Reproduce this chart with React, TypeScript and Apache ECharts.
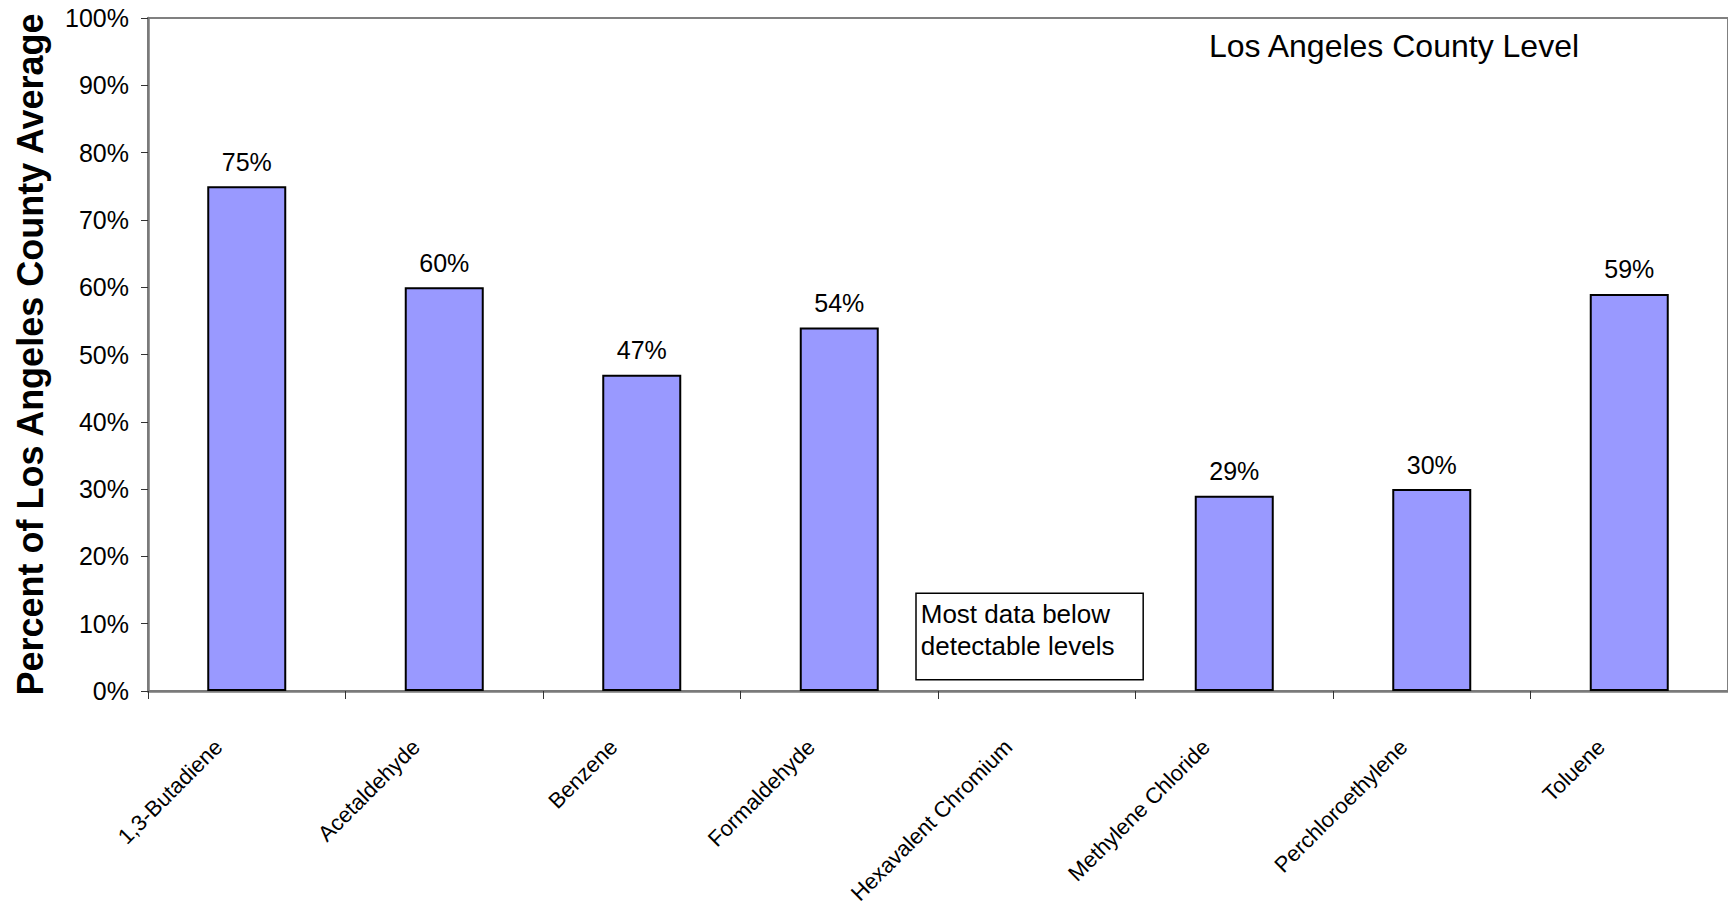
import React, { useEffect, useRef } from "react";
import * as echarts from "echarts";

// Pollutant categories along the x axis
const categories = [
  "1,3-Butadiene",
  "Acetaldehyde",
  "Benzene",
  "Formaldehyde",
  "Hexavalent Chromium",
  "Methylene Chloride",
  "Perchloroethylene",
  "Toluene",
];

// Percent of the county average; Hexavalent Chromium has no bar
const percentValues: (number | null)[] = [75, 60, 47, 54, null, 29, 30, 59];

// Y axis range and step, in percent
const yTicks = { min: 0, max: 100, step: 10 };

const chartTitle = "Los Angeles County Level";
const yAxisTitle = "Percent of Los Angeles County Average";
const noteText = "Most data below\ndetectable levels";
const noteCategory = "Hexavalent Chromium";

const FONT = "'Liberation Sans', Arial, Helvetica, sans-serif";

export default function App() {
  const ref = useRef<HTMLDivElement>(null);

  useEffect(() => {
    if (!ref.current) return;
    const chart = echarts.init(ref.current, undefined, { renderer: "svg" });

    chart.setOption({
      animation: false,
      backgroundColor: "#ffffff",
      textStyle: { fontFamily: FONT, color: "#000" },
      title: {
        text: chartTitle,
        left: 1209,
        top: 30,
        padding: 0,
        textStyle: {
          fontFamily: FONT,
          fontSize: 32,
          fontWeight: "normal",
          color: "#000",
        },
      },
      grid: {
        left: 148,
        top: 18,
        right: -2,
        bottom: 220,
        show: true,
        borderColor: "#808080",
        borderWidth: 2,
        backgroundColor: "transparent",
      },
      xAxis: {
        type: "category",
        data: categories,
        axisLine: { show: true, lineStyle: { color: "#7a7a7a", width: 2.5 } },
        axisTick: {
          show: true,
          length: 8,
          lineStyle: { color: "#333", width: 1 },
        },
        axisLabel: {
          interval: 0,
          rotate: 45,
          margin: 24,
          padding: [0, 40, 0, 0],
          fontSize: 22,
          fontFamily: FONT,
          color: "#000",
        },
        splitLine: { show: false },
      },
      yAxis: {
        type: "value",
        min: yTicks.min,
        max: yTicks.max,
        interval: yTicks.step,
        name: yAxisTitle,
        nameLocation: "middle",
        nameRotate: 90,
        nameGap: 100,
        nameTextStyle: {
          fontFamily: FONT,
          fontSize: 36,
          fontWeight: "bold",
          color: "#000",
        },
        axisLine: { show: true, lineStyle: { color: "#7a7a7a", width: 2.5 } },
        axisTick: {
          show: true,
          length: 7,
          lineStyle: { color: "#333", width: 1 },
        },
        axisLabel: {
          formatter: "{value}%",
          fontSize: 25,
          fontFamily: FONT,
          color: "#000",
          margin: 19,
        },
        splitLine: { show: false },
      },
      series: [
        {
          type: "bar",
          data: percentValues,
          barWidth: "40%",
          itemStyle: {
            color: "#9999ff",
            borderColor: "#000",
            borderWidth: 2,
          },
          label: {
            show: true,
            position: "top",
            distance: 12,
            formatter: "{c}%",
            fontSize: 25,
            fontFamily: FONT,
            color: "#000",
          },
          markPoint: {
            symbol: "circle",
            symbolSize: 0,
            silent: true,
            data: [
              {
                coord: [noteCategory, 0],
                value: 0,
                label: {
                  show: true,
                  position: "top",
                  distance: 12,
                  align: "left",
                  offset: [-120, 0],
                  formatter: noteText,
                  fontSize: 26,
                  lineHeight: 32,
                  fontFamily: FONT,
                  color: "#000",
                  backgroundColor: "#fff",
                  borderColor: "#000",
                  borderWidth: 1.5,
                  padding: [4, 28, 17, 4],
                },
              },
            ],
          },
        },
      ],
    });

    return () => chart.dispose();
  }, []);

  return (
    <div
      ref={ref}
      style={{ position: "fixed", left: 0, top: 0, width: 1728, height: 911 }}
    />
  );
}
